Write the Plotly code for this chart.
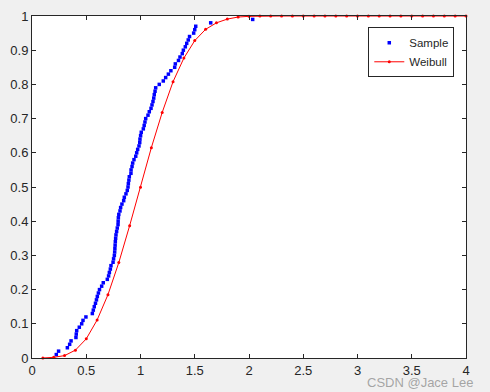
import plotly.graph_objects as go

# Empirical sample CDF (sorted sample values vs cumulative probability)
sample_x = [0.224, 0.245, 0.326, 0.347, 0.360, 0.405, 0.408, 0.412, 0.436, 0.458,
            0.470, 0.497, 0.556, 0.565, 0.574, 0.585, 0.594, 0.602, 0.612, 0.622,
            0.642, 0.657, 0.694, 0.706, 0.713, 0.722, 0.728, 0.747, 0.752, 0.759,
            0.762, 0.764, 0.766, 0.768, 0.771, 0.774, 0.780, 0.786, 0.793, 0.794,
            0.796, 0.800, 0.811, 0.817, 0.829, 0.845, 0.851, 0.866, 0.878, 0.885,
            0.888, 0.893, 0.897, 0.912, 0.913, 0.922, 0.928, 0.940, 0.956, 0.965,
            0.974, 0.986, 0.993, 0.995, 1.001, 1.007, 1.026, 1.034, 1.041, 1.048,
            1.069, 1.081, 1.097, 1.106, 1.115, 1.122, 1.127, 1.134, 1.140, 1.173,
            1.210, 1.232, 1.257, 1.280, 1.315, 1.321, 1.350, 1.364, 1.385, 1.395,
            1.413, 1.426, 1.440, 1.452, 1.490, 1.500, 1.509, 1.647, 2.034]
sample_p = [0.01, 0.02, 0.03, 0.04, 0.05, 0.06, 0.07, 0.08, 0.09, 0.10,
            0.11, 0.12, 0.13, 0.14, 0.15, 0.16, 0.17, 0.18, 0.19, 0.20,
            0.21, 0.22, 0.23, 0.24, 0.25, 0.26, 0.27, 0.28, 0.29, 0.30,
            0.31, 0.32, 0.33, 0.34, 0.35, 0.36, 0.37, 0.38, 0.39, 0.40,
            0.41, 0.42, 0.43, 0.44, 0.45, 0.46, 0.47, 0.48, 0.49, 0.50,
            0.51, 0.52, 0.53, 0.54, 0.55, 0.56, 0.57, 0.58, 0.59, 0.60,
            0.61, 0.62, 0.63, 0.64, 0.65, 0.66, 0.67, 0.68, 0.69, 0.70,
            0.71, 0.72, 0.73, 0.74, 0.75, 0.76, 0.77, 0.78, 0.79, 0.80,
            0.81, 0.82, 0.83, 0.84, 0.85, 0.86, 0.87, 0.88, 0.89, 0.90,
            0.91, 0.92, 0.93, 0.94, 0.95, 0.96, 0.97, 0.98, 0.99]

# Fitted Weibull CDF
weibull_x = [0.1, 0.2, 0.3, 0.4, 0.5, 0.6, 0.7, 0.8, 0.9, 1.0,
             1.1, 1.2, 1.3, 1.4, 1.5, 1.6, 1.7, 1.8, 1.9, 2.0,
             2.1, 2.2, 2.3, 2.4, 2.5, 2.6, 2.7, 2.8, 2.9, 3.0,
             3.1, 3.2, 3.3, 3.4, 3.5, 3.6, 3.7, 3.8, 3.9, 4.0]
weibull_p = [0.000, 0.002, 0.007, 0.023, 0.056, 0.111, 0.185, 0.279, 0.387, 0.499,
             0.615, 0.718, 0.808, 0.877, 0.928, 0.961, 0.980, 0.991, 0.997, 0.999,
             1.0, 1.0, 1.0, 1.0, 1.0, 1.0, 1.0, 1.0, 1.0, 1.0,
             1.0, 1.0, 1.0, 1.0, 1.0, 1.0, 1.0, 1.0, 1.0, 1.0]

x_ticks = [0, 0.5, 1, 1.5, 2, 2.5, 3, 3.5, 4]
x_labels = ["0", "0.5", "1", "1.5", "2", "2.5", "3", "3.5", "4"]
y_ticks = [0, 0.1, 0.2, 0.3, 0.4, 0.5, 0.6, 0.7, 0.8, 0.9, 1]
y_labels = ["0", "0.1", "0.2", "0.3", "0.4", "0.5", "0.6", "0.7", "0.8", "0.9", "1"]

fig = go.Figure()
fig.add_trace(go.Scatter(
    x=sample_x, y=sample_p, mode="markers", name="Sample",
    marker=dict(color="#0000ff", size=3.5, symbol="square", line=dict(width=0)),
    cliponaxis=False,
))
fig.add_trace(go.Scatter(
    x=weibull_x, y=weibull_p, mode="lines+markers", name="Weibull",
    line=dict(color="#ff0000", width=1),
    marker=dict(color="#ff0000", size=3, line=dict(width=0)),
    cliponaxis=False,
))

axis_common = dict(
    showline=True, linecolor="#262626", linewidth=1, mirror="ticks",
    ticks="inside", ticklen=4, tickcolor="#262626", tickwidth=1,
    showgrid=False, zeroline=False, automargin=False,
    tickfont=dict(family="Arial, Liberation Sans", size=13, color="#262626"),
)

fig.update_layout(
    width=490, height=392,
    paper_bgcolor="#f0f0f0", plot_bgcolor="#ffffff",
    margin=dict(l=32, r=24, t=16, b=34),
    showlegend=True,
    legend=dict(
        x=0.973, y=0.967, xanchor="right", yanchor="top",
        bgcolor="#ffffff", bordercolor="#262626", borderwidth=1,
        font=dict(family="Arial, Liberation Sans", size=11.5, color="#262626"),
        tracegroupgap=0,
    ),
    xaxis=dict(range=[0, 4], tickvals=x_ticks, ticktext=x_labels, **axis_common),
    yaxis=dict(range=[0, 1], tickvals=y_ticks, ticktext=y_labels, **axis_common),
    annotations=[dict(
        text="CSDN @Jace Lee", xref="paper", yref="paper",
        x=1.02, y=-0.1, xanchor="right", yanchor="bottom", showarrow=False,
        font=dict(family="Arial, Liberation Sans", size=13, color="rgba(150,150,150,0.85)"),
    )],
)

fig.write_html("out.html", config={"displayModeBar": False},
               post_script="document.body.style.margin='0';")
